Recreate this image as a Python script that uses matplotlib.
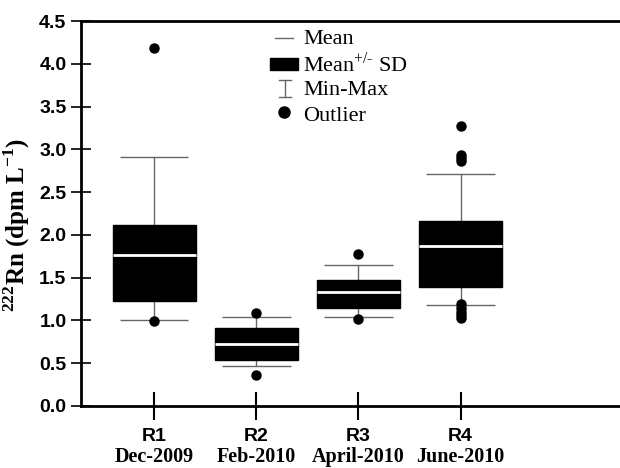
import numpy as np
import matplotlib
matplotlib.use("Agg")
import matplotlib.pyplot as plt

plt.rcParams['mathtext.fontset'] = 'custom'
plt.rcParams['mathtext.rm'] = 'Liberation Serif'
plt.rcParams['mathtext.bf'] = 'Liberation Serif:bold'

# data
regions = ["R1", "R2", "R3", "R4"]
dates = ["Dec-2009", "Feb-2010", "April-2010", "June-2010"]
means = [1.765, 0.73, 1.33, 1.87]
sd_low = [1.23, 0.54, 1.15, 1.395]
sd_high = [2.11, 0.915, 1.47, 2.16]
mins = [1.01, 0.47, 1.04, 1.18]
maxs = [2.91, 1.04, 1.65, 2.71]
outliers = [
    [4.19, 0.99],
    [1.09, 0.36],
    [1.78, 1.02],
    [3.27, 2.93, 2.90, 2.86, 1.19, 1.15, 1.10, 1.06, 1.03],
]

x = np.arange(1, len(regions) + 1)

fig = plt.figure(figsize=(6.2, 4.68), dpi=100)
ax = fig.add_axes([81 / 620, 1 - 406 / 468, 1 - 81 / 620, 385 / 468])

whisk_col = "#666666"
box_w = 0.81
cap_w = 0.67

# whiskers + caps
ax.vlines(x, mins, sd_low, color=whisk_col, lw=1.0, zorder=1)
ax.vlines(x, sd_high, maxs, color=whisk_col, lw=1.0, zorder=1)
ax.hlines(mins, x - cap_w / 2, x + cap_w / 2, color=whisk_col, lw=1.0, zorder=1)
ax.hlines(maxs, x - cap_w / 2, x + cap_w / 2, color=whisk_col, lw=1.0, zorder=1)

# mean +/- SD boxes
heights = np.array(sd_high) - np.array(sd_low)
ax.bar(x, heights, bottom=sd_low, width=box_w, color="black", edgecolor="black", zorder=2)
# mean lines
ax.hlines(means, x - box_w / 2, x + box_w / 2, color="white", lw=2.0, zorder=3)

# outliers
for xi, vals in zip(x, outliers):
    ax.plot([xi] * len(vals), vals, "o", color="black", ms=6.5, zorder=4)

ax.set_xlim(0.284, 5.56)
ax.set_ylim(0, 4.5)
yt = np.arange(0, 4.51, 0.5)
ax.set_yticks(yt)
ax.set_yticklabels([f"{v:.1f}" for v in yt],
                   fontfamily="Liberation Sans", fontweight="bold", fontsize=14)
ax.set_xticks(x)
ax.set_xticklabels(regions, fontfamily="Liberation Sans", fontweight="bold", fontsize=14)
ax.tick_params(axis="x", direction="inout", length=20, width=1.5, pad=6)
ax.tick_params(axis="y", direction="inout", length=15, width=1.2, pad=3)
for xi, d in zip(x, dates):
    ax.text(xi, -0.60, d, ha="center", va="center", fontfamily="Liberation Serif",
            fontweight="bold", fontsize=14.5, transform=ax.transData, clip_on=False)

for s in ["left", "bottom", "top"]:
    ax.spines[s].set_linewidth(2)
ax.spines["right"].set_visible(False)

ax.set_ylabel(r"$^{\mathbf{222}}$Rn (dpm L$^{\mathbf{-1}}$)", fontfamily="Liberation Serif",
              fontweight="bold", fontsize=18)
ax.yaxis.set_label_coords(-0.09, 0.47)

# legend drawn by hand in axes fraction
def fx(px):
    return (px - 81) / 539

def fy(py):
    return (406 - py) / 385

tr = ax.transAxes
ax.plot([fx(275), fx(293)], [fy(38), fy(38)], color=whisk_col, lw=1, transform=tr, clip_on=False)
ax.add_patch(plt.Rectangle((fx(270), fy(70)), fx(298) - fx(270), fy(58) - fy(70),
                           color="black", transform=tr))
ax.plot([fx(285), fx(285)], [fy(80), fy(97)], color=whisk_col, lw=1, transform=tr)
ax.plot([fx(279), fx(291)], [fy(80), fy(80)], color=whisk_col, lw=1, transform=tr)
ax.plot([fx(279), fx(291)], [fy(97), fy(97)], color=whisk_col, lw=1, transform=tr)
ax.plot([fx(284)], [fy(112)], "o", color="black", ms=8, transform=tr)
labels = ["Mean", r"Mean$^{\text{+/-}}$ SD", "Min-Max", "Outlier"]
for i, lab in enumerate(labels):
    ax.text(fx(303), fy(39 + 25.8 * i), lab, ha="left", va="center",
            fontfamily="Liberation Serif", fontsize=16, transform=tr)

fig.savefig("out.png", dpi=100)
